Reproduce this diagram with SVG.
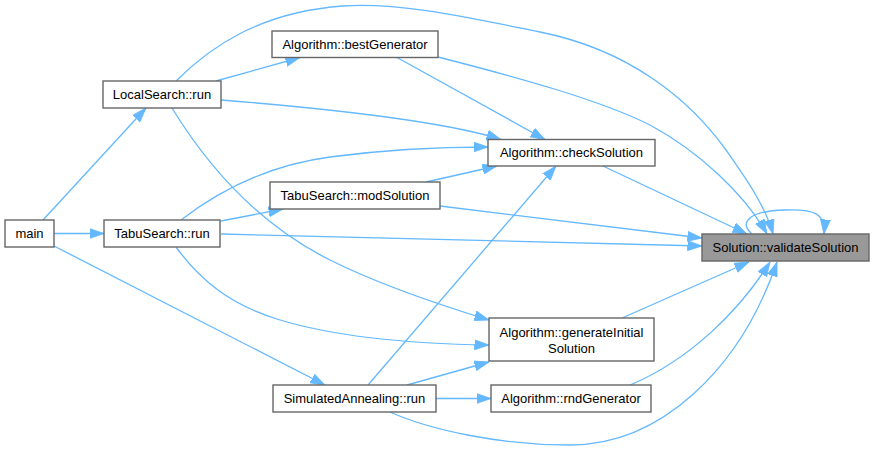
<svg xmlns="http://www.w3.org/2000/svg" width="874" height="451" viewBox="0 0 874 451">
<style>
.n rect{fill:#ffffff;stroke:#666666;stroke-width:1.4}
.n.root rect{fill:#999999}
.n text{font-family:"Liberation Sans",Arial,sans-serif;font-size:13px;fill:#000000;text-anchor:middle}
#edges path{fill:none;stroke:#63b8ff;stroke-width:1.3;marker-end:url(#ah)}
</style>
<defs>
<marker id="ah" markerUnits="userSpaceOnUse" markerWidth="15" markerHeight="11" refX="14.5" refY="5" orient="auto" viewBox="0 0 15 10">
<path d="M0,0 L14.5,5 L0,10 z" fill="#63b8ff" stroke="#63b8ff" stroke-width="0.8"/>
</marker>
</defs>
<rect width="874" height="451" fill="#ffffff"/>
<g id="edges">
<path d="M43,220 L146,108"/>
<path d="M54,233.5 L104,233.5"/>
<path d="M54,246 L325,385"/>
<path d="M216,81 L300,57.5"/>
<path d="M176,81 C210,47 260,12 343,6 C400,2 470,18 540,32 C630,50 690,100 726,150 C745,177 765,205 773,234"/>
<path d="M221,100 C320,108 440,120 501,139.5"/>
<path d="M172,108 C210,170 260,225 330,260 C380,285 440,305 489,320"/>
<path d="M221,221 L283,209"/>
<path d="M181,220 C220,190 270,165 330,157 C390,149 440,147 488,147"/>
<path d="M221,234 L702,246"/>
<path d="M176,247 C200,280 230,305 280,320 C340,338 420,344 489,345"/>
<path d="M426,182 L497,166"/>
<path d="M440,206 C540,218 630,230 702,238"/>
<path d="M397,57.5 L545,139.5"/>
<path d="M438,57 C520,78 600,100 650,125 C700,152 745,195 767,234"/>
<path d="M603,166 L747,234"/>
<path d="M622,318 L749,262"/>
<path d="M630,385 C690,360 740,310 770,262"/>
<path d="M390,412 C430,430 500,445 570,445 C660,445 740,370 777,262"/>
<path d="M407,385 L489,362"/>
<path d="M436,398.5 L491,398.5"/>
<path d="M368,385 L556,166"/>
<path d="M752,234 C738,222 750,211 785,210 C815,209 826,214 824,234"/>
</g>
<g id="node-validateSolution" class="n root"><rect x="702" y="234" width="167" height="27"/><text x="785.5" y="252">Solution::validateSolution</text></g>
<g id="node-checkSolution" class="n"><rect x="488" y="139.5" width="167" height="26.5"/><text x="571.5" y="157">Algorithm::checkSolution</text></g>
<g id="node-bestGenerator" class="n"><rect x="272" y="31" width="166" height="26.5"/><text x="355" y="48.5">Algorithm::bestGenerator</text></g>
<g id="node-LocalSearch" class="n"><rect x="103" y="81" width="118" height="27"/><text x="162" y="99">LocalSearch::run</text></g>
<g id="node-main" class="n"><rect x="5" y="220" width="49" height="27"/><text x="29.5" y="238">main</text></g>
<g id="node-TabuSearch" class="n"><rect x="104" y="220" width="116" height="27"/><text x="162" y="238">TabuSearch::run</text></g>
<g id="node-modSolution" class="n"><rect x="270" y="182" width="170" height="27"/><text x="355" y="200">TabuSearch::modSolution</text></g>
<g id="node-SimulatedAnnealing" class="n"><rect x="273" y="385" width="163" height="27"/><text x="354.5" y="403">SimulatedAnnealing::run</text></g>
<g id="node-generateInitialSolution" class="n"><rect x="489" y="318" width="165" height="43"/><text x="571.5" y="337">Algorithm::generateInitial</text><text x="571.5" y="352.5">Solution</text></g>
<g id="node-rndGenerator" class="n"><rect x="491" y="385" width="160" height="27"/><text x="571" y="403">Algorithm::rndGenerator</text></g>
</svg>
